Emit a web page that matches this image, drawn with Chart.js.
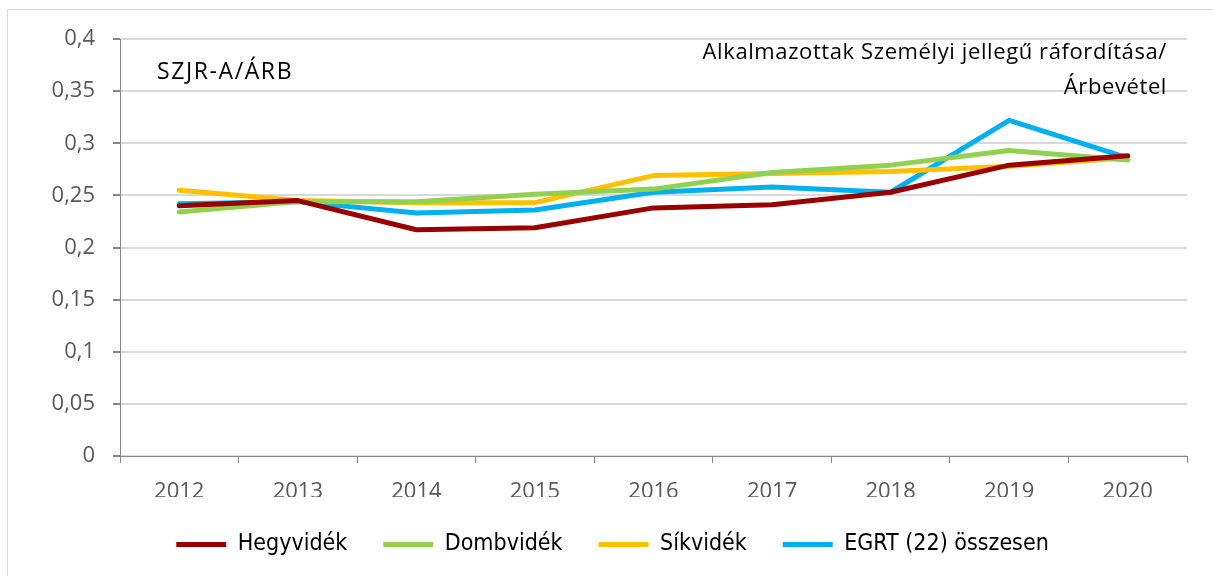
<!DOCTYPE html>
<html>
<head>
<meta charset="utf-8">
<script src="https://cdn.jsdelivr.net/npm/chart.js@4/dist/chart.umd.min.js"></script>
<style>
  html, body { margin: 0; padding: 0; background: #ffffff; }
  #wrap { position: relative; width: 1213px; height: 576px; }
</style>
</head>
<body>
<div id="wrap"><canvas id="c" width="1213" height="576"></canvas></div>
<script>
// Years on the category axis
const years = ['2012', '2013', '2014', '2015', '2016', '2017', '2018', '2019', '2020'];

// Personal-type expenses of employees / revenue, by region type
const hegyvidek  = [0.240, 0.245, 0.217, 0.219, 0.238, 0.241, 0.253, 0.279, 0.288];
const dombvidek  = [0.234, 0.244, 0.244, 0.251, 0.256, 0.272, 0.279, 0.293, 0.284];
const sikvidek   = [0.255, 0.245, 0.243, 0.243, 0.269, 0.271, 0.273, 0.278, 0.286];
const egrtOssz   = [0.242, 0.244, 0.233, 0.236, 0.253, 0.258, 0.253, 0.322, 0.286];

// Value axis ticks
const yTicks = [0, 0.05, 0.1, 0.15, 0.2, 0.25, 0.3, 0.35, 0.4];

const seriesNames = ['Hegyvidék', 'Dombvidék', 'Síkvidék', 'EGRT (22) összesen'];
const seriesColors = ['#990000', '#92D050', '#FFC000', '#00B0F0'];
const seriesData = [hegyvidek, dombvidek, sikvidek, egrtOssz];

const fmt = v => String(v).replace('.', ',');

// Frame around the whole chart, caption texts, legend nudge
const decor = {
  id: 'decor',
  afterLayout(chart) {
    if (chart.legend) {
      chart.legend.left += 19;
      chart.legend.right += 19;
    }
  },
  beforeDraw(chart) {
    const ctx = chart.ctx;
    ctx.save();
    ctx.strokeStyle = '#d9d9d9';
    ctx.lineWidth = 1;
    ctx.strokeRect(7.5, 9.5, 1220, 580);
    ctx.restore();
  },
  afterDraw(chart) {
    const ctx = chart.ctx;
    const a = chart.chartArea;
    ctx.save();
    ctx.fillStyle = '#000000';
    ctx.textBaseline = 'middle';
    ctx.font = '23px "Open Sans", sans-serif';
    ctx.letterSpacing = '1.6px';
    ctx.textAlign = 'left';
    ctx.fillText('SZJR-A/ÁRB', a.left + 37, 72);
    ctx.font = '22px "Open Sans", sans-serif';
    ctx.letterSpacing = '0.6px';
    ctx.textAlign = 'right';
    ctx.fillText('Alkalmazottak Személyi jellegű ráfordítása/', a.right - 20, 53);
    ctx.fillText('Árbevétel', a.right - 20, 88);
    ctx.restore();
  }
};

new Chart(document.getElementById('c'), {
  type: 'line',
  data: {
    labels: years,
    datasets: seriesNames.map((name, i) => ({
      label: name,
      data: seriesData[i],
      borderColor: seriesColors[i],
      backgroundColor: seriesColors[i],
      borderWidth: 5,
      pointRadius: 0,
      tension: 0,
      borderCapStyle: 'round',
      borderJoinStyle: 'round'
    }))
  },
  options: {
    responsive: false,
    animation: false,
    layout: { padding: { left: 0, right: 26, top: 39, bottom: 10 } },
    plugins: {
      tooltip: { enabled: false },
      legend: {
        position: 'bottom',
        labels: {
          font: { family: '"DejaVu Sans Condensed", "Liberation Sans Narrow", sans-serif', size: 23 },
          color: '#595959',
          boxWidth: 50,
          boxHeight: 5,
          padding: 36,
          generateLabels(chart) {
            return chart.data.datasets.map((ds, i) => ({
              text: ds.label,
              fillStyle: ds.borderColor,
              strokeStyle: ds.borderColor,
              lineWidth: 0,
              hidden: false,
              datasetIndex: i
            }));
          }
        }
      }
    },
    scales: {
      x: {
        offset: true,
        grid: {
          display: true,
          drawOnChartArea: false,
          offset: true,
          tickLength: 7,
          color: '#868686'
        },
        border: { color: '#868686', width: 1 },
        ticks: {
          color: '#595959',
          font: { family: '"Open Sans", sans-serif', size: 22 },
          padding: 16
        },
        afterFit(scale) { scale.height = 41; }
      },
      y: {
        min: 0,
        max: 0.4,
        afterBuildTicks(scale) { scale.ticks = yTicks.map(v => ({ value: v })); },
        grid: {
          color: '#d9d9d9',
          lineWidth: 2,
          tickLength: 7,
          tickColor: '#868686',
          drawTicks: true
        },
        border: { color: '#868686', width: 1 },
        ticks: {
          color: '#595959',
          font: { family: '"Open Sans", sans-serif', size: 22 },
          padding: 18,
          callback: v => fmt(v)
        },
        afterFit(scale) { scale.width = 120; }
      }
    }
  },
  plugins: [decor]
});
</script>
</body>
</html>
